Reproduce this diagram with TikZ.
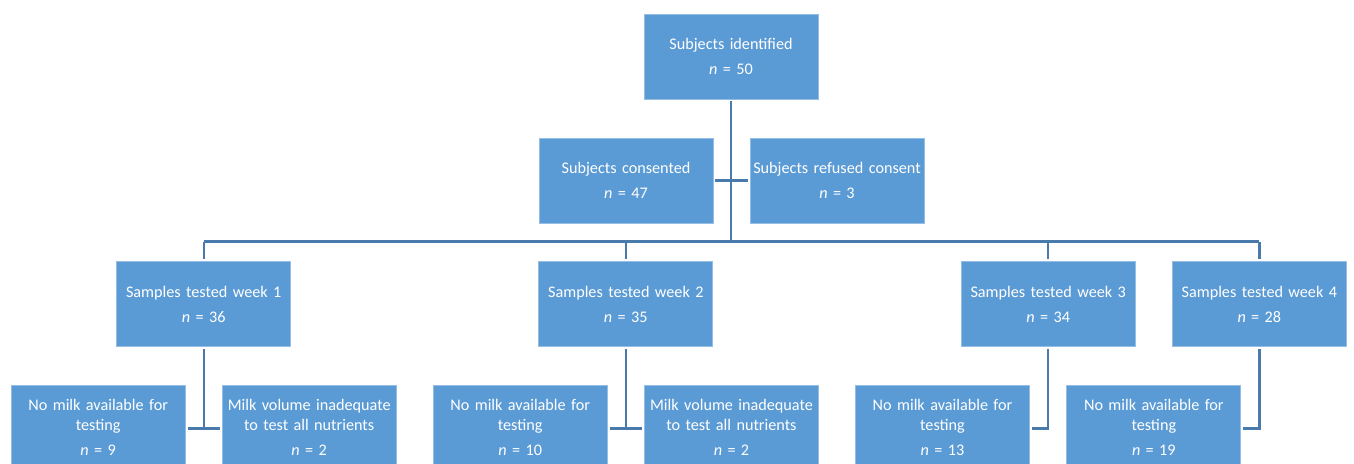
\documentclass[tikz,border=0pt]{standalone}
\usepackage{fontspec}
\setmainfont{Carlito}
\definecolor{boxfill}{RGB}{91,155,213}
\definecolor{boxedge}{RGB}{150,190,228}
\definecolor{linkcol}{RGB}{72,122,172}
\tikzset{
  fbox/.style={rectangle, fill=boxfill, draw=boxedge, line width=0.8pt,
    minimum width=172pt, minimum height=85pt, inner sep=0pt,
    text width=174pt, align=center, text=white,
    font=\fontsize{16.2}{19.2}\selectfont},
  link/.style={draw=linkcol, line width=2.4pt}
}
\begin{document}
\begin{tikzpicture}[x=1pt,y=-1pt]
\useasboundingbox (0,0) rectangle (1354,463);
\clip (0,0) rectangle (1354,463);
\fill[white] (0,0) rectangle (1354,463);

\node[fbox] (top) at (731,56.5) {Subjects identified\\[6pt]\textit{n} = 50};
\node[fbox] (cons) at (626,180.5) {Subjects consented\\[6pt]\textit{n} = 47};
\node[fbox] (ref) at (837,180.5) {Subjects refused consent\\[6pt]\textit{n} = 3};

\node[fbox] (w1) at (203.7,304.2) {Samples tested week 1\\[6pt]\textit{n} = 36};
\node[fbox] (w2) at (625.8,304.2) {Samples tested week 2\\[6pt]\textit{n} = 35};
\node[fbox] (w3) at (1048.2,304.2) {Samples tested week 3\\[6pt]\textit{n} = 34};
\node[fbox] (w4) at (1259.3,304.2) {Samples tested week 4\\[6pt]\textit{n} = 28};

\node[fbox] (b1a) at (98.2,427.5) {No milk available for\\testing\\[6pt]\textit{n} = 9};
\node[fbox] (b1b) at (309.2,427.5) {Milk volume inadequate\\to test all nutrients\\[6pt]\textit{n} = 2};
\node[fbox] (b2a) at (520.2,427.5) {No milk available for\\testing\\[6pt]\textit{n} = 10};
\node[fbox] (b2b) at (731.5,427.5) {Milk volume inadequate\\to test all nutrients\\[6pt]\textit{n} = 2};
\node[fbox] (b3) at (942.5,427.5) {No milk available for\\testing\\[6pt]\textit{n} = 13};
\node[fbox] (b4) at (1153.8,427.5) {No milk available for\\testing\\[6pt]\textit{n} = 19};

% coordinates
\coordinate (hub) at (731,241.5);
\coordinate (left) at (203.7,241.5);
\coordinate (right) at (1259.3,241.5);
\coordinate (j1) at (203.7,428.5);
\coordinate (j2) at (625.8,428.5);
\coordinate (j3) at (1048.2,428.5);
\coordinate (j4) at (1259.3,428.5);

% top trunk
\draw[link, shorten <=2pt] (top.south) -- (hub);
\draw[link, shorten <=2pt, shorten >=2pt] (cons.east) -- (ref.west);
\draw[link] (left) -- (right);
\draw[link, shorten >=2pt] (left) -- (w1.north);
\draw[link, shorten >=2pt] (w2.north |- hub) -- (w2.north);
\draw[link, shorten >=2pt] (w3.north |- hub) -- (w3.north);
\draw[link, shorten >=2pt] (right) -- (w4.north);

% week branches
\draw[link, shorten <=2pt] (w1.south) -- (j1);
\draw[link, shorten <=2pt, shorten >=2pt] (b1a.east |- j1) -- (b1b.west |- j1);
\draw[link, shorten <=2pt] (w2.south) -- (j2);
\draw[link, shorten <=2pt, shorten >=2pt] (b2a.east |- j2) -- (b2b.west |- j2);
\draw[link, shorten <=2pt, shorten >=2pt] (w3.south) -- (j3) -- (b3.east |- j3);
\draw[link, shorten <=2pt, shorten >=2pt] (w4.south) -- (j4) -- (b4.east |- j4);
\end{tikzpicture}
\end{document}
